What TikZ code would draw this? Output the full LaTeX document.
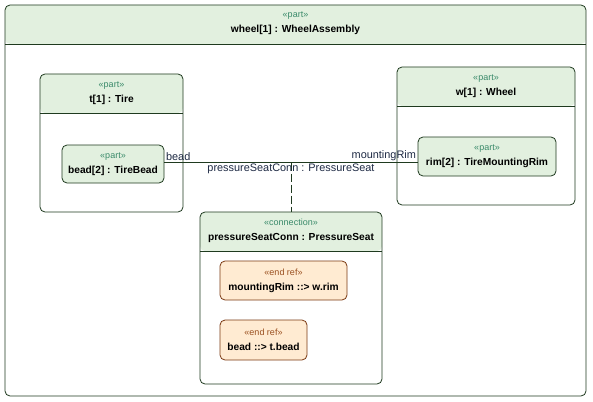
\documentclass[tikz,border=0pt]{standalone}
\usepackage{fontspec}
\setmainfont{Liberation Sans}
\usepackage{xcolor}
\usetikzlibrary{positioning}
\definecolor{hdrgreen}{HTML}{E2F0DF}
\definecolor{lineg}{HTML}{1F3A1F}
\definecolor{stereo}{HTML}{3A8A6A}
\definecolor{reffill}{HTML}{FFEBD2}
\definecolor{refline}{HTML}{7B3A12}
\definecolor{refstereo}{HTML}{9A5020}
\definecolor{labtext}{HTML}{1E2A44}
\newcommand{\stp}[1]{{\color{stereo}\fontsize{9}{15}\selectfont\mdseries\guillemotleft#1\guillemotright}}
\newcommand{\str}[1]{{\color{refstereo}\fontsize{9}{15}\selectfont\mdseries\guillemotleft#1\guillemotright}}

\begin{document}
\begin{tikzpicture}[x=1pt, y=-1pt,
  box/.style={draw=lineg, line width=0.8pt, rounded corners=5pt, inner sep=0pt},
  compart/.style={box, fill=white,
    path picture={\fill[hdrgreen] (path picture bounding box.north west)
      rectangle ([yshift=-39pt]path picture bounding box.north east);
      \draw[lineg, line width=0.8pt] ([yshift=-39pt]path picture bounding box.north west)
      -- ([yshift=-39pt]path picture bounding box.north east);}},
  part/.style={box, fill=hdrgreen, align=center,
               font=\fontsize{10.2}{15}\selectfont\bfseries},
  endref/.style={draw=refline, fill=reffill, line width=0.8pt, rounded corners=5pt,
                 inner sep=0pt, align=center, font=\fontsize{10.2}{15}\selectfont\bfseries},
  hdr/.style={align=center, font=\fontsize{10.2}{15}\selectfont\bfseries},
  lab/.style={font=\fontsize{10.9}{12}\selectfont, text=labtext, inner sep=1.5pt}]
\useasboundingbox (0,0) rectangle (593,401);

% outer part
\node[compart, minimum width=581pt, minimum height=391pt] (W) at (295.5,200.5) {};
\node[hdr] (Wh) at ([yshift=-19pt]W.north) {\stp{part}\\ wheel[1] : WheelAssembly};

% tire and wheel
\node[compart, minimum width=143pt, minimum height=138pt] (T) at (111.5,143) {};
\node[hdr] (Th) at ([yshift=-19.5pt]T.north) {\stp{part}\\ t[1] : Tire};
\node[compart, minimum width=178pt, minimum height=138pt] (WH) at (486,136) {};
\node[hdr] (WHh) at ([yshift=-19.5pt]WH.north) {\stp{part}\\ w[1] : Wheel};

\node[part, minimum width=102pt, minimum height=38pt] (bead) at (113,164)
  {\stp{part}\\ bead[2] : TireBead};
\node[part, minimum width=138pt, minimum height=39pt] (rim) at (487,156.5)
  {\stp{part}\\ rim[2] : TireMountingRim};

% connection
\node[compart, minimum width=182pt, minimum height=172pt] (conn) at (291,298) {};
\node[hdr] (connh) at ([yshift=-19.5pt]conn.north)
  {\stp{connection}\\ pressureSeatConn : PressureSeat};
\node[endref, minimum width=127pt, minimum height=39pt] (ref1) at (283.5,280.5)
  {\str{end ref}\\ mountingRim ::> w.rim};
\node[endref, minimum width=87pt, minimum height=40pt] (ref2) at (263.5,340)
  {\str{end ref}\\ bead ::> t.bead};

\coordinate (pb) at (bead.east |- 0,162.5);
\coordinate (pm) at (rim.west |- pb);
\coordinate (pc) at (conn.north |- pb);
\draw[lineg, line width=0.8pt] (pb) -- (pm);
\draw[lineg, line width=0.8pt, dash pattern=on 8pt off 3pt] (pc) -- (conn.north);
\node[lab, above right] (lb) at (pb) {bead};
\node[lab, above left] (lm) at (pm) {mountingRim};
\node[lab, below] (lc) at (pc) {pressureSeatConn : PressureSeat};
\end{tikzpicture}
\end{document}
